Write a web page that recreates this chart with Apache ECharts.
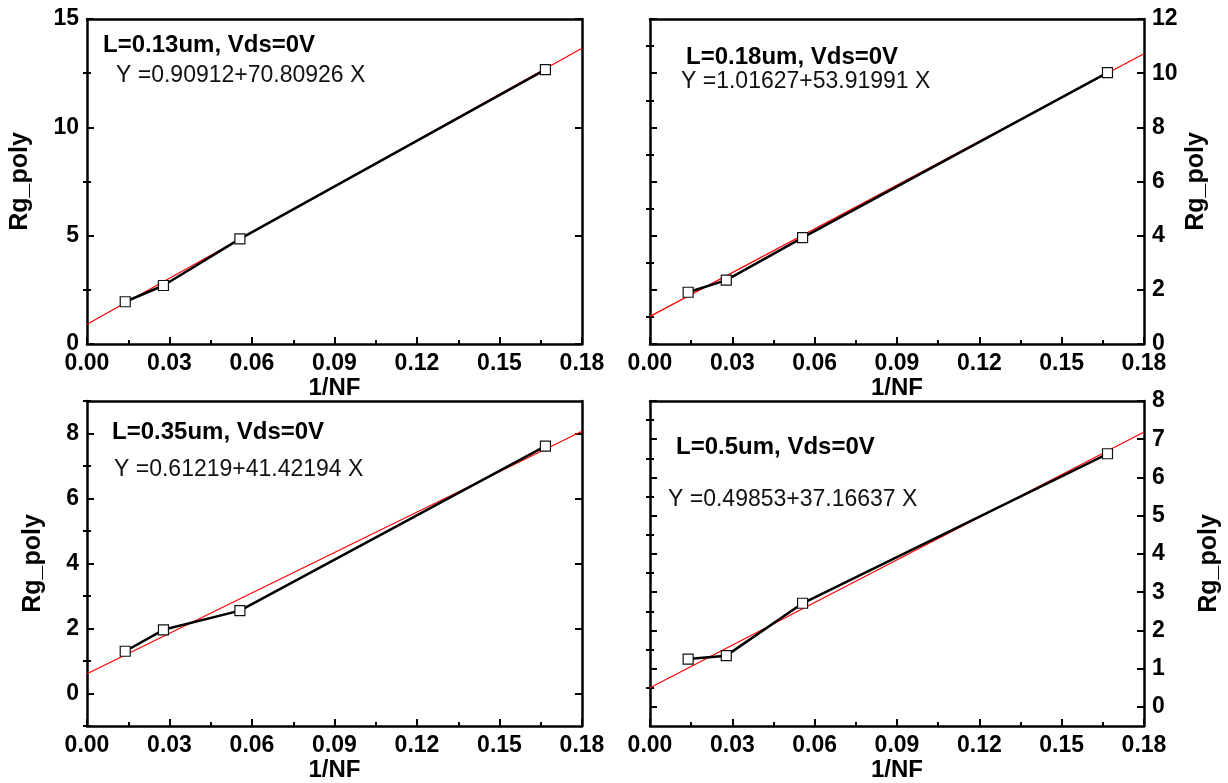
<!DOCTYPE html>
<html>
<head>
<meta charset="utf-8">
<script src="https://cdn.jsdelivr.net/npm/echarts@6/dist/echarts.min.js"></script>
<style>
html,body{margin:0;padding:0;background:#fff;}
#chart{width:1228px;height:783px;}
</style>
</head>
<body>
<div id="chart"></div>
<script>
// ---- data ----
const xNF = [0.0139, 0.0278, 0.0556, 0.1667];           // 1/NF
const rg013 = [1.95, 2.70, 4.85, 12.66];
const rg018 = [1.91, 2.36, 3.93, 10.02];
const rg035 = [1.30, 1.96, 2.55, 7.61];
const rg050 = [1.25, 1.34, 2.71, 6.62];
const fitX = [0, 0.18];
const fit013 = [0.91, 13.65];
const fit018 = [1.02, 10.72];
const fit035 = [0.61, 8.07];
const fit050 = [0.50, 7.19];
const titles = ['L=0.13um, Vds=0V', 'L=0.18um, Vds=0V', 'L=0.35um, Vds=0V', 'L=0.5um, Vds=0V'];
const equations = ['Y =0.90912+70.80926 X', 'Y =1.01627+53.91991 X', 'Y =0.61219+41.42194 X', 'Y =0.49853+37.16637 X'];
const yMajor013 = [0, 5, 10, 15];
const yMinor013 = [2.5, 7.5, 12.5];
const yMajor018 = [0, 2, 4, 6, 8, 10, 12];
const yMinor018 = [1, 3, 5, 7, 9, 11];
const yMajor035 = [0, 2, 4, 6, 8];
const yMinor035 = [-1, 1, 3, 5, 7, 9];
const yMajor050 = [0, 1, 2, 3, 4, 5, 6, 7, 8];
const yMinor050 = [0.5, 1.5, 2.5, 3.5, 4.5, 5.5, 6.5, 7.5];

// ---- layout ----
const FONT = '"Liberation Sans", Arial, sans-serif';
const panels = [
  {left: 87, top: 19, w: 495, h: 325, ymin: 0, ymax: 15, maj: yMajor013, min: yMinor013, side: 'left', nameGap: 54, data: rg013, fit: fit013,
   tPos: [103, 45], ePos: [116, 76]},
  {left: 650, top: 19, w: 494, h: 325, ymin: 0, ymax: 12, maj: yMajor018, min: yMinor018, side: 'right', nameGap: 40, data: rg018, fit: fit018,
   tPos: [686, 57], ePos: [681, 82]},
  {left: 87, top: 401, w: 495, h: 325, ymin: -1, ymax: 9, maj: yMajor035, min: yMinor035, side: 'left', nameGap: 41, data: rg035, fit: fit035,
   tPos: [112, 432], ePos: [114, 470]},
  {left: 650, top: 401, w: 494, h: 325, ymin: -0.5, ymax: 8, maj: yMajor050, min: yMinor050, side: 'right', nameGap: 53, data: rg050, fit: fit050,
   tPos: [676, 447], ePos: [668, 500]}
];

const grids = [], xAxes = [], yAxes = [], series = [], graphics = [];
const black = '#000';
const lblStyle = {fontFamily: FONT, fontWeight: 'bold', fontSize: 23, color: black};
const nameStyle = {fontFamily: FONT, fontWeight: 'bold', fontSize: 24, color: black};
const yNameStyle = {fontFamily: FONT, fontWeight: 'bold', fontSize: 25, color: black};

panels.forEach((p, g) => {
  grids.push({left: p.left, top: p.top, width: p.w, height: p.h, containLabel: false});
  // bottom x
  xAxes.push({
    gridIndex: g, type: 'value', position: 'bottom', min: 0, max: 0.18, interval: 0.03,
    axisLine: {show: true, onZero: false, lineStyle: {color: black, width: 2.5}},
    axisTick: {show: true, inside: true, length: 7, lineStyle: {color: black, width: 2}},
    minorTick: {show: true, splitNumber: 2, length: 4, lineStyle: {color: black, width: 2}},
    axisLabel: Object.assign({margin: 8, formatter: v => v.toFixed(2)}, lblStyle),
    splitLine: {show: false},
    name: '1/NF', nameLocation: 'middle', nameGap: 31, nameTextStyle: nameStyle
  });
  // top x (frame)
  xAxes.push({
    gridIndex: g, type: 'value', position: 'top', min: 0, max: 0.18,
    axisLine: {show: true, onZero: false, lineStyle: {color: black, width: 2.5}},
    axisTick: {show: false}, axisLabel: {show: false}, splitLine: {show: false}
  });
  const other = p.side === 'left' ? 'right' : 'left';
  const base = {gridIndex: g, type: 'value', min: p.ymin, max: p.ymax, splitLine: {show: false}};
  // main y with labels
  yAxes.push(Object.assign({}, base, {
    position: p.side,
    axisLine: {show: true, onZero: false, lineStyle: {color: black, width: 2.5}},
    axisTick: {show: true, inside: true, length: 7, customValues: p.maj, lineStyle: {color: black, width: 2}},
    axisLabel: Object.assign({margin: 8, customValues: p.maj}, lblStyle),
    name: 'Rg_poly', nameLocation: 'middle', nameGap: p.nameGap, nameRotate: 90, nameTextStyle: yNameStyle
  }));
  // minor ticks same side
  yAxes.push(Object.assign({}, base, {
    position: p.side,
    axisLine: {show: false},
    axisTick: {show: true, inside: true, length: 4, customValues: p.min, lineStyle: {color: black, width: 2}},
    axisLabel: {show: false}
  }));
  // opposite side frame with ticks
  yAxes.push(Object.assign({}, base, {
    position: other,
    axisLine: {show: true, onZero: false, lineStyle: {color: black, width: 2.5}},
    axisTick: {show: true, inside: true, length: 7, customValues: p.maj, lineStyle: {color: black, width: 2}},
    axisLabel: {show: false}
  }));
  yAxes.push(Object.assign({}, base, {
    position: other,
    axisLine: {show: false},
    axisTick: {show: true, inside: true, length: 4, customValues: p.min, lineStyle: {color: black, width: 2}},
    axisLabel: {show: false}
  }));

  series.push({
    type: 'line', xAxisIndex: 2 * g, yAxisIndex: 4 * g,
    data: xNF.map((x, i) => [x, p.data[i]]),
    lineStyle: {color: black, width: 2.5},
    symbol: 'rect', symbolSize: 10,
    itemStyle: {color: '#fff', borderColor: '#111', borderWidth: 1.2},
    z: 3, animation: false, silent: true
  });
  series.push({
    type: 'line', xAxisIndex: 2 * g, yAxisIndex: 4 * g,
    data: fitX.map((x, i) => [x, p.fit[i]]),
    lineStyle: {color: '#ff0000', width: 1.2},
    symbol: 'none', z: 2, animation: false, silent: true
  });

  graphics.push({
    type: 'text', x: p.tPos[0], y: p.tPos[1],
    style: {text: titles[g], fontFamily: FONT, fontWeight: 'bold', fontSize: 24, fill: black, align: 'left', verticalAlign: 'middle'}
  });
  graphics.push({
    type: 'text', x: p.ePos[0], y: p.ePos[1],
    style: {text: equations[g], fontFamily: FONT, fontWeight: 'normal', fontSize: 23, fill: '#111', align: 'left', verticalAlign: 'middle'}
  });
});

const chart = echarts.init(document.getElementById('chart'), null, {renderer: 'canvas'});
chart.setOption({
  backgroundColor: '#fff',
  animation: false,
  grid: grids,
  xAxis: xAxes,
  yAxis: yAxes,
  series: series,
  graphic: graphics
});
</script>
</body>
</html>
